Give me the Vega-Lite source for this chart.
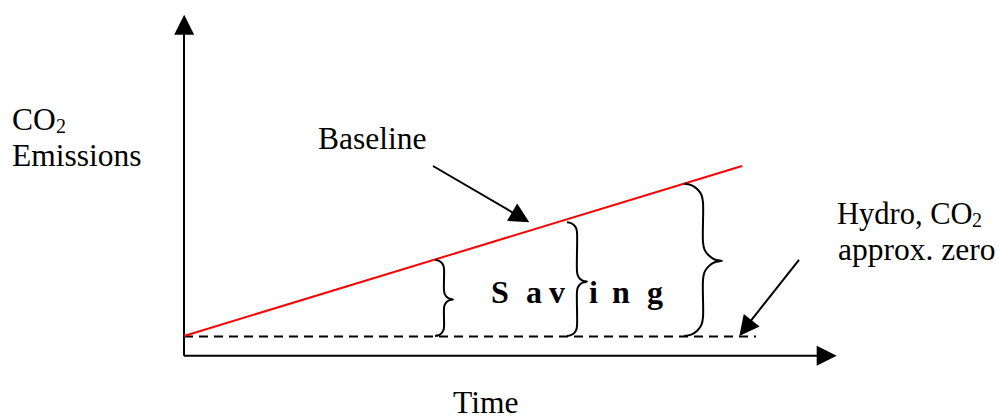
{
  "$schema": "https://vega.github.io/schema/vega-lite/v6.json",
  "width": 1000,
  "height": 420,
  "autosize": {"type": "fit", "contains": "padding"},
  "padding": 0,
  "background": "white",
  "config": {"view": {"stroke": null}},
  "datasets": {
    "segments": [
      {"kind": "axis", "x": 184, "y": 360, "x2": 184, "y2": 25},
      {"kind": "axis", "x": 184, "y": 360, "x2": 827, "y2": 360},
      {"kind": "pointer", "x": 433, "y": 168, "x2": 521, "y2": 220},
      {"kind": "pointer", "x": 799, "y": 263, "x2": 745, "y2": 332},
      {"kind": "hydro", "x": 184, "y": 340.5, "x2": 756, "y2": 340.5},
      {"kind": "baseline", "x": 184, "y": 340, "x2": 742, "y2": 168}
    ],
    "heads": [
      {"id": "yaxis", "x": 184.2, "y": 25},
      {"id": "xaxis", "x": 826.7, "y": 360},
      {"id": "baseline", "x": 520.7, "y": 219.9},
      {"id": "hydro", "x": 745.5, "y": 332.1}
    ],
    "braces": [
      {"b": 1, "i": 0, "x": 435, "y": 263}, {"b": 1, "i": 1, "x": 438.4, "y": 263.7}, {"b": 1, "i": 2, "x": 441.4, "y": 265.6}, {"b": 1, "i": 3, "x": 443.3, "y": 268.6}, {"b": 1, "i": 4, "x": 444, "y": 272},
      {"b": 1, "i": 5, "x": 444, "y": 294}, {"b": 1, "i": 6, "x": 444.7, "y": 297.4}, {"b": 1, "i": 7, "x": 446.6, "y": 300.4}, {"b": 1, "i": 8, "x": 449.6, "y": 302.3}, {"b": 1, "i": 9, "x": 453, "y": 303},
      {"b": 1, "i": 10, "x": 449.6, "y": 303.7}, {"b": 1, "i": 11, "x": 446.6, "y": 305.6}, {"b": 1, "i": 12, "x": 444.7, "y": 308.6}, {"b": 1, "i": 13, "x": 444, "y": 312},
      {"b": 1, "i": 14, "x": 444, "y": 331}, {"b": 1, "i": 15, "x": 443.3, "y": 334.4}, {"b": 1, "i": 16, "x": 441.4, "y": 337.4}, {"b": 1, "i": 17, "x": 438.4, "y": 339.3}, {"b": 1, "i": 18, "x": 435, "y": 340},
      {"b": 2, "i": 0, "x": 567, "y": 225}, {"b": 2, "i": 1, "x": 570.8, "y": 225.8}, {"b": 2, "i": 2, "x": 574.1, "y": 227.9}, {"b": 2, "i": 3, "x": 576.2, "y": 231.2}, {"b": 2, "i": 4, "x": 577, "y": 235},
      {"b": 2, "i": 5, "x": 577, "y": 275}, {"b": 2, "i": 6, "x": 577.8, "y": 278.8}, {"b": 2, "i": 7, "x": 579.9, "y": 282.1}, {"b": 2, "i": 8, "x": 583.2, "y": 284.2}, {"b": 2, "i": 9, "x": 587, "y": 285},
      {"b": 2, "i": 10, "x": 583.2, "y": 285.8}, {"b": 2, "i": 11, "x": 579.9, "y": 287.9}, {"b": 2, "i": 12, "x": 577.8, "y": 291.2}, {"b": 2, "i": 13, "x": 577, "y": 295},
      {"b": 2, "i": 14, "x": 577, "y": 330}, {"b": 2, "i": 15, "x": 576.2, "y": 333.8}, {"b": 2, "i": 16, "x": 574.1, "y": 337.1}, {"b": 2, "i": 17, "x": 570.8, "y": 339.2}, {"b": 2, "i": 18, "x": 567, "y": 340},
      {"b": 3, "i": 0, "x": 684, "y": 186}, {"b": 3, "i": 1, "x": 691.3, "y": 187.4}, {"b": 3, "i": 2, "x": 697.4, "y": 191.6}, {"b": 3, "i": 3, "x": 701.6, "y": 197.7}, {"b": 3, "i": 4, "x": 703, "y": 205},
      {"b": 3, "i": 5, "x": 703, "y": 245}, {"b": 3, "i": 6, "x": 704.4, "y": 252.3}, {"b": 3, "i": 7, "x": 708.6, "y": 258.4}, {"b": 3, "i": 8, "x": 714.7, "y": 262.6}, {"b": 3, "i": 9, "x": 722, "y": 264},
      {"b": 3, "i": 10, "x": 714.7, "y": 265.4}, {"b": 3, "i": 11, "x": 708.6, "y": 269.6}, {"b": 3, "i": 12, "x": 704.4, "y": 275.7}, {"b": 3, "i": 13, "x": 703, "y": 283},
      {"b": 3, "i": 14, "x": 703, "y": 321}, {"b": 3, "i": 15, "x": 701.6, "y": 328.3}, {"b": 3, "i": 16, "x": 697.4, "y": 334.4}, {"b": 3, "i": 17, "x": 691.3, "y": 338.6}, {"b": 3, "i": 18, "x": 684, "y": 340}
    ],
    "labels": [
      {"t": "CO", "x": 12, "y": 132},
      {"t": "Emissions", "x": 12, "y": 168},
      {"t": "Baseline", "x": 318, "y": 151},
      {"t": "approx. zero", "x": 838, "y": 263},
      {"t": "Time", "x": 453, "y": 418}
    ],
    "hydro": [
      {"t": "Hydro, CO", "x": 837, "y": 227}
    ],
    "subs": [
      {"t": "2", "x": 56, "y": 135},
      {"t": "2", "x": 972, "y": 230}
    ],
    "saving": [
      {"t": "S", "x": 491, "y": 307},
      {"t": "a", "x": 526, "y": 307},
      {"t": "v", "x": 549, "y": 307},
      {"t": "i", "x": 589, "y": 307},
      {"t": "n", "x": 612, "y": 307},
      {"t": "g", "x": 647, "y": 307}
    ]
  },
  "encoding": {
    "x": {"field": "x", "type": "quantitative", "scale": {"domain": [0, 1000], "nice": false, "zero": false}, "axis": null},
    "y": {"field": "y", "type": "quantitative", "scale": {"domain": [0, 420], "nice": false, "zero": false, "reverse": true}, "axis": null}
  },
  "layer": [
    {
      "data": {"name": "segments"},
      "transform": [{"filter": "datum.kind === 'axis' || datum.kind === 'pointer'"}],
      "mark": {"type": "rule", "color": "black", "strokeWidth": 2},
      "encoding": {"x2": {"field": "x2"}, "y2": {"field": "y2"}}
    },
    {
      "data": {"name": "segments"},
      "transform": [{"filter": "datum.kind === 'hydro'"}],
      "mark": {"type": "rule", "color": "black", "strokeWidth": 2, "strokeDash": [9, 6]},
      "encoding": {"x2": {"field": "x2"}, "y2": {"field": "y2"}}
    },
    {
      "data": {"name": "segments"},
      "transform": [{"filter": "datum.kind === 'baseline'"}],
      "mark": {"type": "rule", "color": "#ff0000", "strokeWidth": 2},
      "encoding": {"x2": {"field": "x2"}, "y2": {"field": "y2"}}
    },
    {
      "data": {"name": "braces"},
      "mark": {"type": "line", "color": "black", "strokeWidth": 2, "interpolate": "catmull-rom"},
      "encoding": {"detail": {"field": "b"}, "order": {"field": "i", "type": "quantitative"}}
    },
    {
      "data": {"name": "heads"},
      "transform": [{"filter": "datum.id === 'yaxis'"}],
      "mark": {"type": "point", "shape": "M0,-1L1,1L-1,1Z", "filled": true, "color": "black", "opacity": 1, "size": 400, "angle": 0},
      "encoding": {}
    },
    {
      "data": {"name": "heads"},
      "transform": [{"filter": "datum.id === 'xaxis'"}],
      "mark": {"type": "point", "shape": "M0,-1L1,1L-1,1Z", "filled": true, "color": "black", "opacity": 1, "size": 400, "angle": 90},
      "encoding": {}
    },
    {
      "data": {"name": "heads"},
      "transform": [{"filter": "datum.id === 'baseline'"}],
      "mark": {"type": "point", "shape": "M0,-1L1,1L-1,1Z", "filled": true, "color": "black", "opacity": 1, "size": 400, "angle": 120.5},
      "encoding": {}
    },
    {
      "data": {"name": "heads"},
      "transform": [{"filter": "datum.id === 'hydro'"}],
      "mark": {"type": "point", "shape": "M0,-1L1,1L-1,1Z", "filled": true, "color": "black", "opacity": 1, "size": 400, "angle": 218},
      "encoding": {}
    },
    {
      "data": {"name": "labels"},
      "mark": {"type": "text", "font": "Liberation Serif", "fontSize": 31.5, "align": "left", "baseline": "alphabetic", "color": "black"},
      "encoding": {"text": {"field": "t"}}
    },
    {
      "data": {"name": "hydro"},
      "mark": {"type": "text", "font": "Liberation Serif", "fontSize": 30.5, "align": "left", "baseline": "alphabetic", "color": "black"},
      "encoding": {"text": {"field": "t"}}
    },
    {
      "data": {"name": "subs"},
      "mark": {"type": "text", "font": "Liberation Serif", "fontSize": 20, "align": "left", "baseline": "alphabetic", "color": "black"},
      "encoding": {"text": {"field": "t"}}
    },
    {
      "data": {"name": "saving"},
      "mark": {"type": "text", "font": "Liberation Serif", "fontSize": 32, "fontWeight": "bold", "align": "left", "baseline": "alphabetic", "color": "black"},
      "encoding": {"text": {"field": "t"}}
    }
  ]
}
